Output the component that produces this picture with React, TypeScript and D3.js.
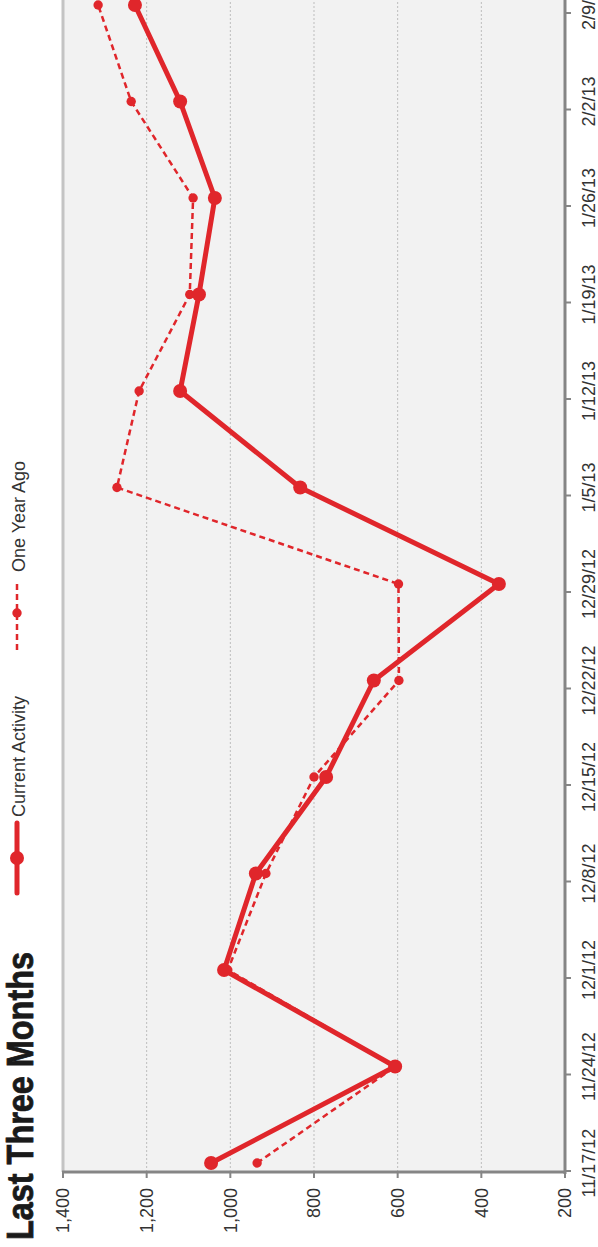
import React from "react";
import * as d3 from "d3";

const dates = ["11/17/12","11/24/12","12/1/12","12/8/12","12/15/12","12/22/12","12/29/12","1/5/13","1/12/13","1/19/13","1/26/13","2/2/13","2/9/13"];
const currentActivity = [1046, 606, 1015, 939, 771, 657, 358, 833, 1120, 1075, 1037, 1120, 1228];
const oneYearAgo = [936, 605, 1006, 915, 800, 597, 598, 1271, 1218, 1097, 1089, 1237, 1316];
const valueTicks = [200, 400, 600, 800, 1000, 1200, 1400];
const gridValues = [400, 600, 800, 1000, 1200];

const W = 598;
const H = 1247;
const RED = "#e0262b";
const FONT = "'Liberation Sans', Arial, Helvetica, sans-serif";

export default function App() {
  // Drawn in unrotated coordinates (u horizontal, v vertical), then rotated -90deg.
  const x = d3.scalePoint<string>().domain(dates).range([84, 84 + 12 * 96.5]);
  const y = d3.scaleLinear().domain([200, 1400]).range([565, 63]);
  const line = d3
    .line<number>()
    .x((_, i) => x(dates[i]) as number)
    .y((d) => y(d));

  const axisU = 75;
  return (
    <svg width={W} height={H} style={{ position: "absolute", left: 0, top: 0, background: "#fff" }}>
      <g transform={`translate(0,${H}) rotate(-90)`} fontFamily={FONT}>
        <rect x={axisU} y={y(1400)} width={H - axisU + 10} height={y(200) - y(1400)} fill="#f2f2f2" />
        {gridValues.map((v) => (
          <line key={v} x1={axisU} x2={H + 10} y1={y(v)} y2={y(v)} stroke="#bdbdbd" strokeWidth={1} strokeDasharray="2,2" />
        ))}
        <line x1={axisU} x2={H + 10} y1={y(1400)} y2={y(1400)} stroke="#c4c4c4" strokeWidth={3} />
        <line x1={axisU - 2} x2={H + 10} y1={y(200)} y2={y(200)} stroke="#858585" strokeWidth={3} />
        {dates.map((d) => (
          <line key={d} x1={(x(d) as number) - 8} x2={(x(d) as number) - 8} y1={y(200)} y2={y(200) + 6} stroke="#858585" strokeWidth={2} />
        ))}
        {dates.map((d) => (
          <text key={d} x={x(d) as number} y={595} textAnchor="middle" fontSize={18} fill="#333">
            {d}
          </text>
        ))}
        <line x1={axisU} x2={axisU} y1={y(1400) - 1} y2={y(200) + 1} stroke="#858585" strokeWidth={3} />
        {valueTicks.map((v) => (
          <line key={v} x1={axisU} x2={axisU - 6} y1={y(v)} y2={y(v)} stroke="#858585" strokeWidth={2} />
        ))}
        {valueTicks.map((v) => (
          <text key={v} x={59} y={y(v)} dy="0.35em" textAnchor="end" fontSize={18} fill="#333">
            {d3.format(",")(v)}
          </text>
        ))}
        <path d={line(oneYearAgo) as string} fill="none" stroke={RED} strokeWidth={2.5} strokeDasharray="6,4" />
        {oneYearAgo.map((v, i) => (
          <circle key={i} cx={x(dates[i]) as number} cy={y(v)} r={4.7} fill={RED} />
        ))}
        <path d={line(currentActivity) as string} fill="none" stroke={RED} strokeWidth={5} strokeLinejoin="round" />
        {currentActivity.map((v, i) => (
          <circle key={i} cx={x(dates[i]) as number} cy={y(v)} r={7} fill={RED} />
        ))}
        <text x={7} y={33} fontSize={37} fontWeight="bold" fill="#1a1a1a" stroke="#1a1a1a" strokeWidth={0.8} textLength={288} lengthAdjust="spacingAndGlyphs">
          Last Three Months
        </text>
        <line x1={354} x2={424} y1={17} y2={17} stroke={RED} strokeWidth={5} strokeLinecap="round" />
        <circle cx={389} cy={17} r={7} fill={RED} />
        <text x={430} y={25} fontSize={18} fill="#333">Current Activity</text>
        <line x1={597} x2={667} y1={17} y2={17} stroke={RED} strokeWidth={2.5} strokeDasharray="6,4" />
        <circle cx={634} cy={17} r={4.7} fill={RED} />
        <text x={675} y={25} fontSize={18} fill="#333">One Year Ago</text>
      </g>
    </svg>
  );
}
